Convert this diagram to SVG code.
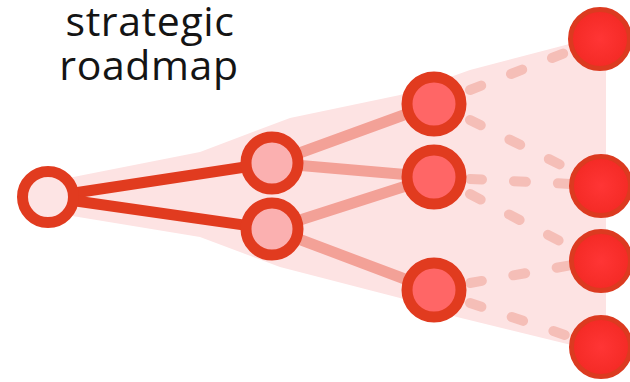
<svg xmlns="http://www.w3.org/2000/svg" width="630" height="382" viewBox="0 0 630 382">
<defs>
<style>
.title{font-family:"Open Sans","Liberation Sans",sans-serif;font-size:41px;letter-spacing:0.6px;fill:#141414;text-anchor:middle}
.fan{fill:#fde3e3}
.e1{stroke:#e13b1f;stroke-width:11;stroke-linecap:round;fill:none}
.e2{stroke:#f3a197;stroke-width:11;stroke-linecap:round;fill:none}
.e3{stroke:#f5beb7;stroke-width:10;stroke-linecap:round;stroke-dasharray:12 32;fill:none}
.nA{fill:#fde4e4;stroke:#e13b1f;stroke-width:11}
.nB{fill:#fbb0b0;stroke:#e13b1f;stroke-width:11}
.nC{fill:#ff6666;stroke:#e13b1f;stroke-width:11}
.nD{fill:url(#gD);stroke:#dc3a20;stroke-width:5}
</style>
<radialGradient id="gD" cx="0.5" cy="0.5" r="0.5">
<stop offset="0" stop-color="#ff3535"/>
<stop offset="1" stop-color="#f42a25"/>
</radialGradient>
</defs>
<g id="title">
<text class="title"><tspan x="150" y="36">strategic</tspan><tspan x="149" y="80">roadmap</tspan></text>
</g>
<polygon class="fan" points="48,182 200,152 290,118 400,95 470,70 600,36 606,36 606,352 600,352 457,317 400,298 280,267 200,237 48,212"/>
<g id="connectors">
<line class="e1" x1="48" y1="197" x2="272" y2="163"/>
<line class="e1" x1="48" y1="197" x2="272" y2="229"/>
<line class="e2" x1="272" y1="163" x2="434" y2="104"/>
<line class="e2" x1="272" y1="163" x2="434" y2="177"/>
<line class="e2" x1="272" y1="229" x2="434" y2="177"/>
<line class="e2" x1="272" y1="229" x2="434" y2="290"/>
<line class="e3" x1="470" y1="90" x2="575" y2="49"/>
<line class="e3" x1="470" y1="120" x2="575" y2="172"/>
<line class="e3" x1="470" y1="179" x2="572" y2="184"/>
<line class="e3" x1="470" y1="194" x2="575" y2="249"/>
<line class="e3" x1="470" y1="283" x2="572" y2="265"/>
<line class="e3" x1="470" y1="303" x2="574" y2="338"/>
</g>
<g id="node-a"><circle class="nA" cx="48" cy="197" r="25.5"/></g>
<g id="node-b1"><circle class="nB" cx="272" cy="163" r="26"/></g>
<g id="node-b2"><circle class="nB" cx="272" cy="229" r="26"/></g>
<g id="node-c1"><circle class="nC" cx="434" cy="104" r="27"/></g>
<g id="node-c2"><circle class="nC" cx="434" cy="177" r="27"/></g>
<g id="node-c3"><circle class="nC" cx="434" cy="290" r="27"/></g>
<g id="node-d1"><circle class="nD" cx="600" cy="39" r="29.5"/></g>
<g id="node-d2"><circle class="nD" cx="601" cy="186" r="29.5"/></g>
<g id="node-d3"><circle class="nD" cx="601" cy="261" r="29.5"/></g>
<g id="node-d4"><circle class="nD" cx="601" cy="347" r="29.5"/></g>
</svg>
